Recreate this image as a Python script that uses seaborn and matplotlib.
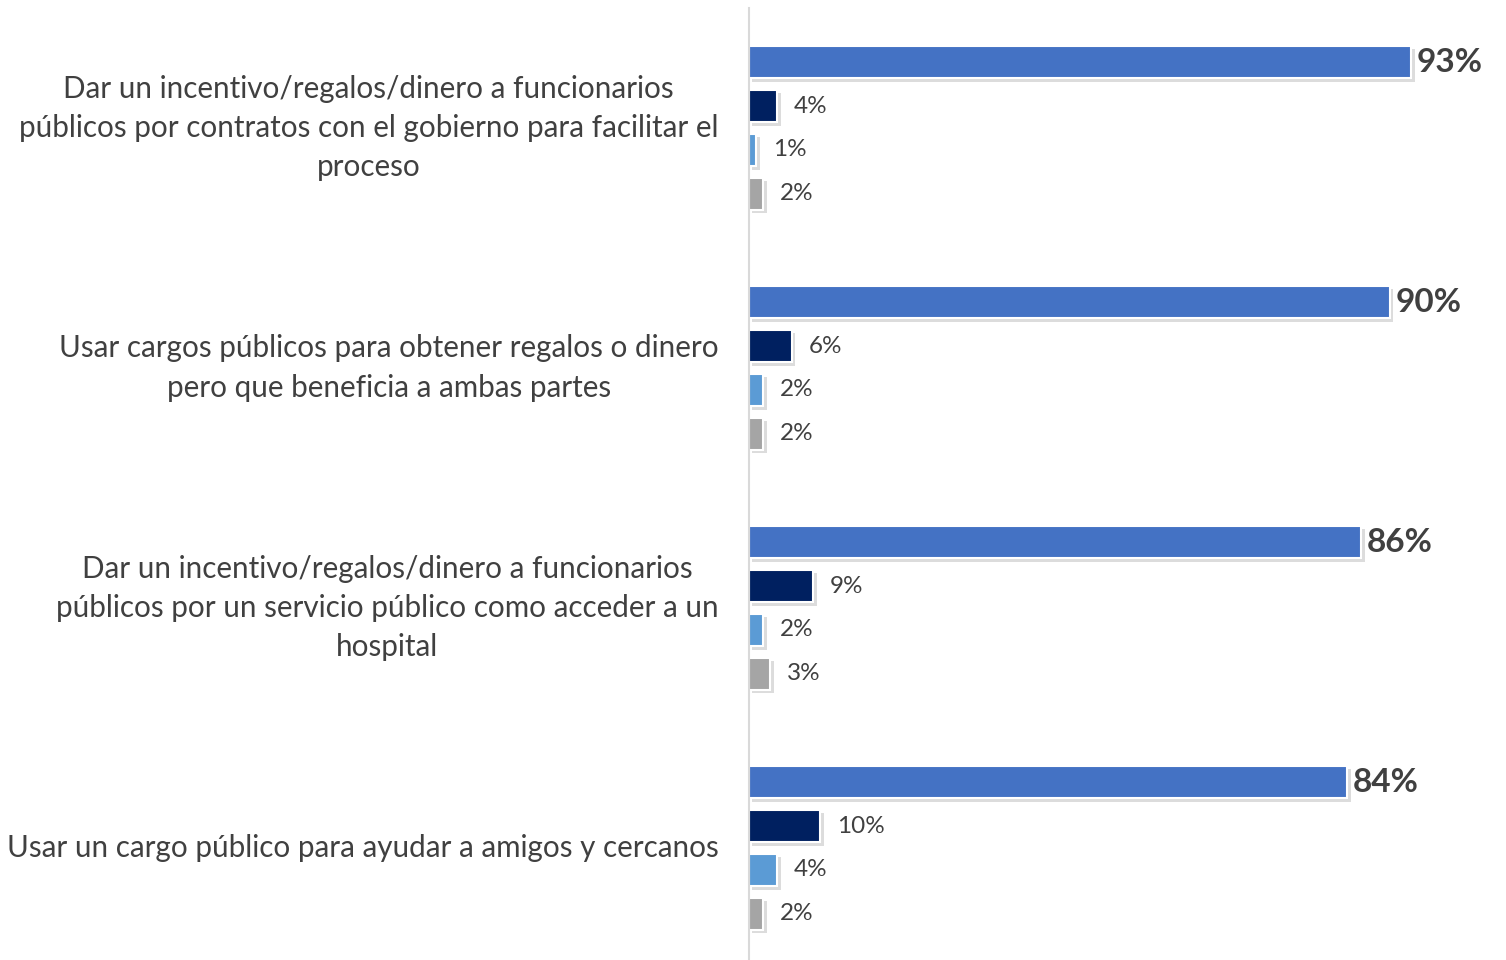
import pandas as pd
import matplotlib
matplotlib.use('Agg')
import matplotlib.pyplot as plt
import matplotlib.patheffects as pe
import seaborn as sns

sns.set_theme(style="white")
plt.rcParams['font.family'] = ['Lato', 'DejaVu Sans']

categorias = [
    "Dar un incentivo/regalos/dinero a funcionarios\npúblicos por contratos con el gobierno para facilitar el\nproceso",
    "Usar cargos públicos para obtener regalos o dinero\npero que beneficia a ambas partes",
    "Dar un incentivo/regalos/dinero a funcionarios\npúblicos por un servicio público como acceder a un\nhospital",
    "Usar un cargo público para ayudar a amigos y cercanos",
]
series = ['Serie 1', 'Serie 2', 'Serie 3', 'Serie 4']
serie1 = [93, 90, 86, 84]
serie2 = [4, 6, 9, 10]
serie3 = [1, 2, 2, 4]
serie4 = [2, 2, 3, 2]
colores = ['#4472C4', '#002060', '#5B9BD5', '#A5A5A5']

filas = []
for nombre, valores in zip(series, [serie1, serie2, serie3, serie4]):
    for cat, v in zip(categorias, valores):
        filas.append({'categoria': cat, 'serie': nombre, 'valor': v})
df = pd.DataFrame(filas)

fig = plt.figure(figsize=(15.06, 9.6), dpi=100)
ax = fig.add_axes([749 / 1506, -8 / 960, 712 / 1506, 1.0])

sns.barplot(data=df, y='categoria', x='valor', hue='serie', orient='h',
            palette=colores, saturation=1, width=0.733, gap=0.27, legend=False,
            edgecolor='white', linewidth=1.5, ax=ax)

# sombra suave bajo las barras
sombra = [pe.SimplePatchShadow(offset=(2.5, -2.5), shadow_rgbFace='#8c8c8c', alpha=0.3), pe.Normal()]
for p in ax.patches:
    p.set_path_effects(sombra)

for i, cont in enumerate(ax.containers):
    if i == 0:
        ax.bar_label(cont, fmt='{:.0f}%', padding=4, fontsize=24, fontweight='bold', color='#404040')
    else:
        ax.bar_label(cont, fmt='{:.0f}%', padding=12, fontsize=17.5, color='#404040')

ax.set_xlim(0, 100)
ax.set_ylim(3.5, -0.5)
ax.set_xlabel('')
ax.set_ylabel('')
ax.set_xticks([])
ax.tick_params(axis='y', length=0, pad=22, labelsize=21.3, labelcolor='#404040')
for lbl in ax.get_yticklabels():
    lbl.set_multialignment('center')
    lbl.set_linespacing(1.48)
    lbl.set_verticalalignment('center')

for s in ['top', 'right', 'bottom']:
    ax.spines[s].set_visible(False)
ax.spines['left'].set_color('#D9D9D9')
ax.spines['left'].set_linewidth(1.5)

fig.savefig('out.png', dpi=100, facecolor='white')
